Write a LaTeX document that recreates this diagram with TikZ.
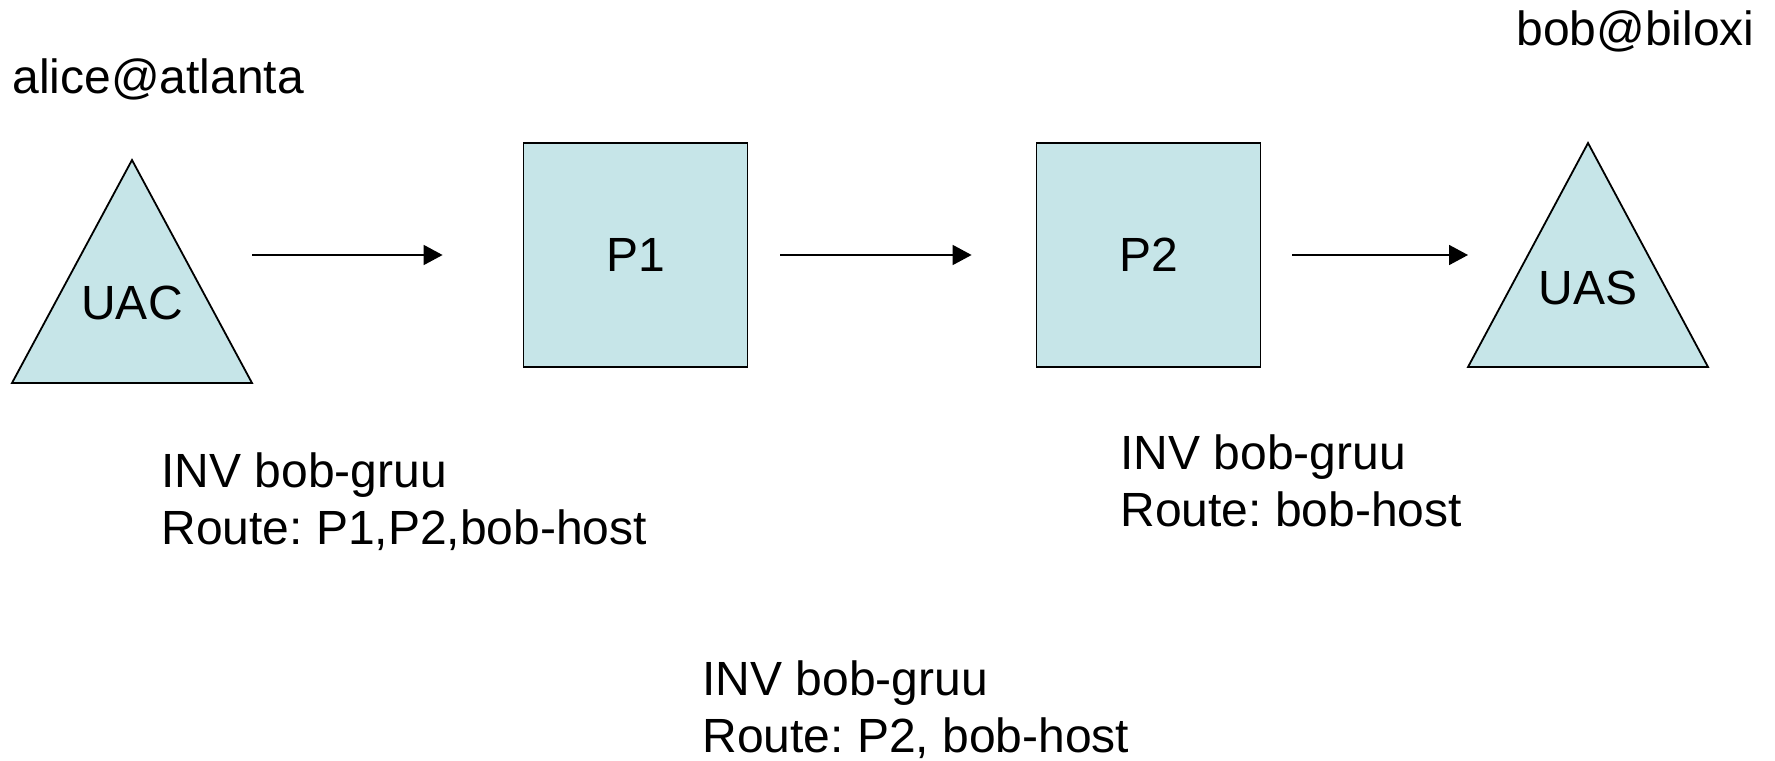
\documentclass[tikz,border=0pt]{standalone}
\usepackage{fontspec}
\setmainfont{Liberation Sans}
\usetikzlibrary{arrows.meta,positioning}
\definecolor{boxfill}{HTML}{C6E5E8}
\frenchspacing

\begin{document}
\begin{tikzpicture}[x=0.5pt,y=-0.5pt,
    font=\fontsize{24pt}{28.5pt}\selectfont,
    proxy/.style={draw,line width=0.9pt,fill=boxfill,minimum size=112pt,inner sep=0pt},
    agent/.style={draw,line width=0.9pt,fill=boxfill},
    msg/.style={anchor=base west,align=left,inner sep=0pt},
    flow/.style={-{Triangle[length=9.5pt,width=10pt]},line width=0.85pt}]
    \useasboundingbox (0,0) rectangle (1775,760);

    % user agents
    \coordinate (uacL) at (12,383);
    \coordinate (uacT) at (132,160);
    \coordinate (uacR) at (252,383);
    \draw[agent] (uacL) -- (uacT) -- (uacR) -- cycle;
    \node[inner sep=0pt] (uac) at (132,303) {UAC};

    \coordinate (uasL) at (1468,367);
    \coordinate (uasT) at (1588,143);
    \coordinate (uasR) at (1708,367);
    \draw[agent] (uasL) -- (uasT) -- (uasR) -- cycle;
    \node[inner sep=0pt] (uas) at (1588,288) {UAS};

    % proxies
    \node[proxy] (p1) at (635.5,255) {P1};
    \node[proxy] (p2) at (1148.5,255) {P2};

    \node[anchor=base west,inner sep=0pt] (alice) at (12,93) {alice@atlanta};
    \node[anchor=base east,inner sep=0pt] (bob) at (1755,45) {bob@biloxi};

    \draw[flow,shorten >=40pt] (uacR |- p1.west) -- (p1.west);
    \draw[flow,shorten <=16pt,shorten >=32pt] (p1.east) -- (p2.west);
    \draw[flow,shorten <=15.5pt] (p2.east) -- (uasL |- p2.east);

    % requests (base = last line)
    \node[msg] (inv1) at (161,544) {INV bob-gruu\\Route: P1,P2,bob-host};
    \node[msg] (inv2) at (702,752) {INV bob-gruu\\Route: P2, bob-host};
    \node[msg] (inv3) at (1120,526) {INV bob-gruu\\Route: bob-host};
\end{tikzpicture}
\end{document}
